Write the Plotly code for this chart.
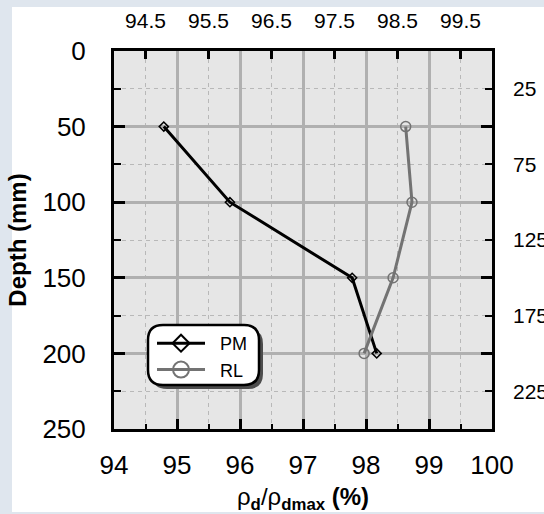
import plotly.graph_objects as go

# ---- data ----
depth = [50, 100, 150, 200]
pm_values = [94.79, 95.84, 97.78, 98.17]
rl_values = [98.63, 98.73, 98.43, 97.97]
x_ticks_bottom = [94, 95, 96, 97, 98, 99, 100]
x_ticks_top = [94.5, 95.5, 96.5, 97.5, 98.5, 99.5]
y_ticks_left = [0, 50, 100, 150, 200, 250]
y_ticks_right = [25, 75, 125, 175, 225]

W, H = 544, 514
L, R, T, B = 114, 492, 51, 429  # plot area pixels
FONT = "Arial, Liberation Sans, sans-serif"
NB = "\u00a0"


def px(xp):
    return (xp - L) / (R - L)


def py(yp):
    return (B - yp) / (B - T)


def rounded(x0, y0, x1, y1, r):
    rx = r / (R - L)
    ry = r / (B - T)
    X0, X1 = px(x0), px(x1)
    Y0, Y1 = py(y0), py(y1)  # Y0 top (higher), Y1 bottom
    return (f"M{X0+rx},{Y0} L{X1-rx},{Y0} Q{X1},{Y0} {X1},{Y0-ry} "
            f"L{X1},{Y1+ry} Q{X1},{Y1} {X1-rx},{Y1} L{X0+rx},{Y1} "
            f"Q{X0},{Y1} {X0},{Y1+ry} L{X0},{Y0-ry} Q{X0},{Y0} {X0+rx},{Y0} Z")


fig = go.Figure()

fig.add_trace(go.Scatter(
    x=pm_values, y=depth, mode="lines+markers", name="PM", showlegend=False,
    line=dict(color="black", width=3),
    marker=dict(symbol="diamond-open", size=7, color="black", line=dict(width=1.5)),
))
fig.add_trace(go.Scatter(
    x=rl_values, y=depth, mode="lines+markers", name="RL", showlegend=False,
    line=dict(color="#737373", width=3),
    marker=dict(symbol="circle-open", size=10, color="#737373", line=dict(width=1.5)),
))
# legend entries
fig.add_trace(go.Scatter(
    x=[None], y=[None], mode="lines+markers", name=NB * 2 + "PM",
    line=dict(color="black", width=3),
    marker=dict(symbol="diamond-open", size=13, color="black", line=dict(width=2)),
))
fig.add_trace(go.Scatter(
    x=[None], y=[None], mode="lines+markers", name=NB * 2 + "RL",
    line=dict(color="#737373", width=3),
    marker=dict(symbol="circle-open", size=16, color="#737373", line=dict(width=2)),
))
# top / right axes carriers
fig.add_trace(go.Scatter(x=[None], y=[None], xaxis="x2", yaxis="y2", showlegend=False))

shapes = [
    dict(type="rect", xref="paper", yref="paper", x0=px(12), x1=px(W + 5), y0=py(512), y1=py(7),
         fillcolor="white", line=dict(width=0), layer="below"),
    dict(type="rect", xref="paper", yref="paper", x0=0, x1=1, y0=0, y1=1,
         fillcolor="#e6e6e6", line=dict(width=0), layer="below"),
    dict(type="path", xref="paper", yref="paper", path=rounded(152, 329, 263, 389, 15),
         fillcolor="#4d4d4d", line=dict(width=0), layer="above"),
    dict(type="path", xref="paper", yref="paper", path=rounded(148, 325, 259, 385, 15),
         fillcolor="white", line=dict(color="black", width=2.5), layer="above"),
]

axis_common = dict(showline=True, linecolor="black", linewidth=3, automargin=False,
                   tickfont=dict(family=FONT, size=26, color="black"))

fig.update_layout(
    width=W, height=H,
    margin=dict(l=L, r=W - R, t=T, b=H - B, autoexpand=False),
    paper_bgcolor="#dfe6ee",
    plot_bgcolor="rgba(0,0,0,0)",
    font=dict(family=FONT, color="black"),
    shapes=shapes,
    showlegend=True,
    legend=dict(x=px(152), y=py(325), xanchor="left", yanchor="top",
                bgcolor="rgba(0,0,0,0)", borderwidth=0,
                font=dict(family=FONT, size=18, color="black"),
                itemwidth=48, tracegroupgap=0),
    xaxis=dict(
        range=[94, 100], tickvals=x_ticks_bottom, ticktext=[str(v) for v in x_ticks_bottom],
        ticks="inside", ticklen=10, tickwidth=3, tickcolor="black",
        mirror=True, showgrid=True, gridcolor="#b0b0b0", gridwidth=2.5,
        minor=dict(tickvals=x_ticks_top, ticks="inside", ticklen=5, tickwidth=2, tickcolor="black",
                   showgrid=True, gridcolor="#b8b8b8", gridwidth=1.2, griddash="4px,4px"),
        ticklabelstandoff=11, zeroline=False,
        title=dict(text="ρ<sub><b>d</b></sub>/ρ<sub><b>dmax</b></sub> <b>(%)</b>",
                   font=dict(family=FONT, size=24, color="black"), standoff=15),
        **axis_common,
    ),
    yaxis=dict(
        range=[250, 0], tickvals=y_ticks_left, ticktext=[str(v) for v in y_ticks_left],
        ticks="inside", ticklen=11, tickwidth=3, tickcolor="black",
        mirror="ticks", showgrid=True, gridcolor="#b0b0b0", gridwidth=2.5,
        minor=dict(tickvals=y_ticks_right, ticks="inside", ticklen=7, tickwidth=2, tickcolor="black",
                   showgrid=True, gridcolor="#b8b8b8", gridwidth=1.2, griddash="4px,4px"),
        ticklabelstandoff=20, zeroline=False,
        title=dict(text="<b>Depth (mm)</b>", font=dict(family=FONT, size=24, color="black"), standoff=10),
        **axis_common,
    ),
    xaxis2=dict(
        overlaying="x", side="top", range=[94, 100], tickvals=x_ticks_top,
        ticktext=[str(v) for v in x_ticks_top], ticks="inside", ticklen=8, tickwidth=2.5,
        tickcolor="black", showgrid=False, zeroline=False, showline=False, automargin=False,
        tickfont=dict(family=FONT, size=21, color="black"), ticklabelstandoff=18,
    ),
    yaxis2=dict(
        overlaying="y", side="right", range=[250, 0], tickvals=y_ticks_right,
        ticktext=[str(v) for v in y_ticks_right], ticks="inside", ticklen=7, tickwidth=2,
        tickcolor="black", showgrid=False, zeroline=False, showline=False, automargin=False,
        tickfont=dict(family=FONT, size=21, color="black"), ticklabelstandoff=20,
    ),
)

fig.write_html("out.html")
